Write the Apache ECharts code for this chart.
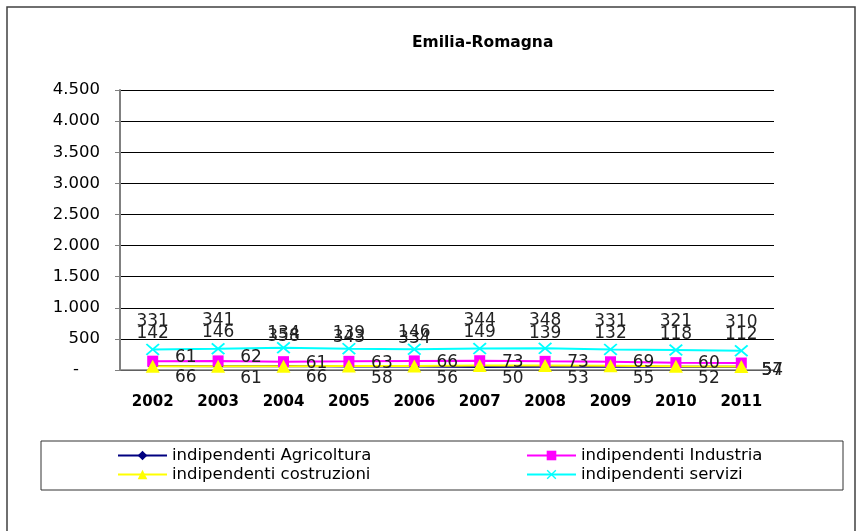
<!DOCTYPE html>
<html>
<head>
<meta charset="utf-8">
<script src="https://cdn.jsdelivr.net/npm/echarts@6/dist/echarts.min.js"></script>
<style>
  html, body { margin: 0; padding: 0; background: #fff; }
  #chart { width: 863px; height: 531px; }
</style>
</head>
<body>
<div id="chart"></div>
<script>
// anni e valori (migliaia)
const anni = ['2002', '2003', '2004', '2005', '2006', '2007', '2008', '2009', '2010', '2011'];
const agricoltura = [66, 61, 66, 58, 56, 50, 53, 55, 52, 54];
const industria = [142, 146, 134, 139, 146, 149, 139, 132, 118, 112];
const costruzioni = [61, 62, 61, 63, 66, 73, 73, 69, 60, 57];
const servizi = [331, 341, 358, 343, 334, 344, 348, 331, 321, 310];

const FONT = 'DejaVu Sans';

// etichette spostate come nell'originale
function conEtichette(valori, spostamento) {
	return valori.map(function(v, i) {
		return { value: v, label: { offset: spostamento(i) } };
	});
}

function etichetta() {
	return {
		show: true,
		position: 'inside',
		fontFamily: FONT,
		fontSize: 17,
		color: '#222'
	};
}

function migliaia(v) {
	if (v === 0) return '-    ';
	return String(v).replace(/\B(?=(\d{3})+(?!\d))/g, '.');
}

const ultimo = anni.length - 1;

let myChart = echarts.init(document.getElementById('chart'));
let option = {
	animation: false,
	backgroundColor: '#fff',
	title: {
		text: 'Emilia-Romagna',
		left: 412,
		top: 35,
		padding: 0,
		textStyle: { fontFamily: FONT, fontSize: 15.5, fontWeight: 'bold', color: '#000' }
	},
	graphic: [
		{ type: 'rect', shape: { x: 7, y: 7, width: 848, height: 540 }, style: { fill: 'none', stroke: '#404040', lineWidth: 1.5 }, z: -1 },
		{ type: 'rect', shape: { x: 41, y: 441, width: 802, height: 49 }, style: { fill: 'none', stroke: '#333', lineWidth: 1 }, z: -1 }
	],
	legend: [
		{
			orient: 'vertical',
			left: 117, top: 447, padding: 0,
			itemWidth: 49, itemHeight: 12, itemGap: 2,
			data: ['indipendenti Agricoltura', 'indipendenti costruzioni'],
			textStyle: { fontFamily: FONT, fontSize: 16.5, lineHeight: 16, color: '#000' }
		},
		{
			orient: 'vertical',
			left: 526, top: 447, padding: 0,
			itemWidth: 49, itemHeight: 12, itemGap: 2,
			data: ['indipendenti Industria', 'indipendenti servizi'],
			textStyle: { fontFamily: FONT, fontSize: 16.5, lineHeight: 16, color: '#000' }
		}
	],
	grid: { left: 120, right: 89, top: 90, bottom: 161 },
	xAxis: {
		type: 'category',
		data: anni,
		boundaryGap: true,
		axisLine: { lineStyle: { color: '#808080', width: 1.5 } },
		axisTick: { show: false },
		axisLabel: { fontFamily: FONT, fontSize: 15, fontWeight: 'bold', color: '#000', margin: 25 }
	},
	yAxis: {
		type: 'value',
		min: 0, max: 4500, interval: 500,
		axisLine: { show: true, lineStyle: { color: '#808080', width: 2 } },
		axisTick: { show: true, length: 5, lineStyle: { color: '#808080' } },
		splitLine: { lineStyle: { color: '#000', width: 1 } },
		axisLabel: { fontFamily: FONT, fontSize: 16.5, color: '#000', margin: 20, formatter: migliaia }
	},
	series: [
		{
			name: 'indipendenti Agricoltura',
			type: 'line',
			symbol: 'diamond', symbolSize: 10,
			itemStyle: { color: '#000080' },
			lineStyle: { color: '#000080', width: 2 },
			label: etichetta(),
			data: conEtichette(agricoltura, function(i) { return i === ultimo ? [31, 4] : [33, 12]; })
		},
		{
			name: 'indipendenti Industria',
			type: 'line',
			symbol: 'rect', symbolSize: 11,
			itemStyle: { color: '#ff00ff' },
			lineStyle: { color: '#ff00ff', width: 2 },
			label: etichetta(),
			data: conEtichette(industria, function() { return [0, -28]; })
		},
		{
			name: 'indipendenti costruzioni',
			type: 'line',
			symbol: 'triangle', symbolSize: [14, 13],
			itemStyle: { color: '#ffff00' },
			lineStyle: { color: '#ffff00', width: 2 },
			label: etichetta(),
			data: conEtichette(costruzioni, function(i) {
				if (i === ultimo) return [31, 4];
				return i < 2 ? [33, -9] : [33, -3];
			})
		},
		{
			name: 'indipendenti servizi',
			type: 'line',
			symbol: 'path://M0,1L1,0L5,4L9,0L10,1L6,5L10,9L9,10L5,6L1,10L0,9L4,5Z',
			symbolSize: [14, 12],
			itemStyle: { color: '#00ffff' },
			lineStyle: { color: '#00ffff', width: 2 },
			label: etichetta(),
			data: conEtichette(servizi, function(i) { return (i >= 2 && i <= 4) ? [0, -11] : [0, -28]; })
		}
	]
};
myChart.setOption(option);
</script>
</body>
</html>
